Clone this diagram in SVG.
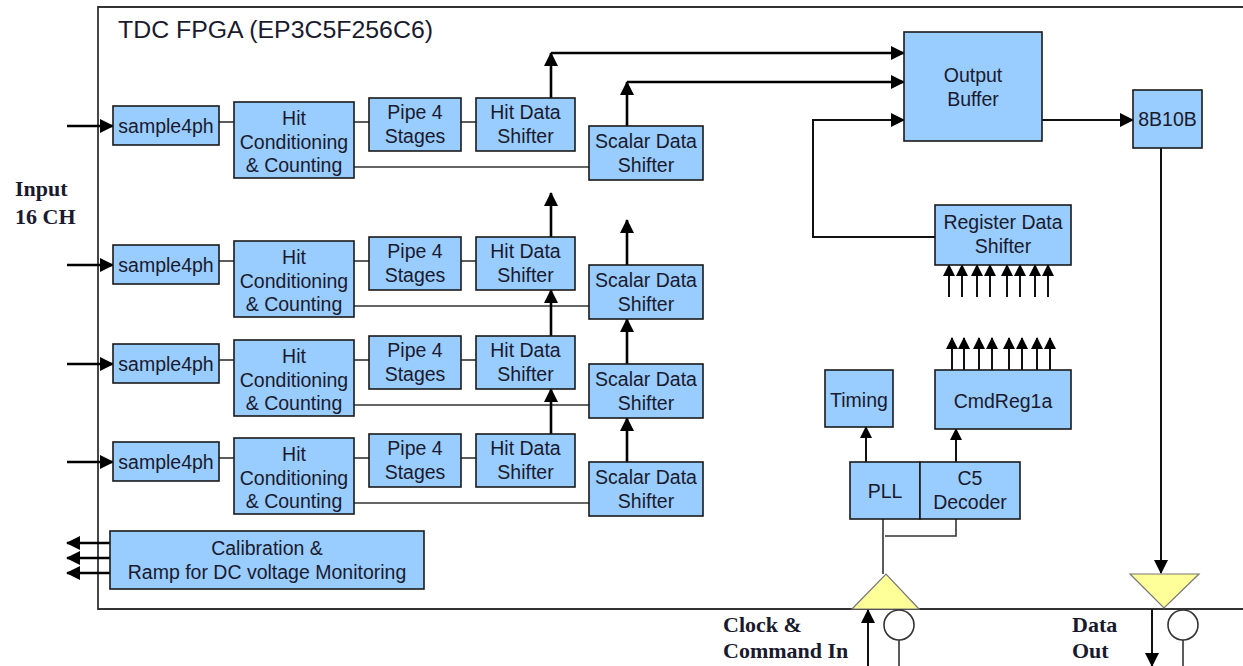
<svg xmlns="http://www.w3.org/2000/svg" width="1243" height="666" viewBox="0 0 1243 666">
  <defs>
    <marker id="ah" markerUnits="userSpaceOnUse" markerWidth="14" markerHeight="14" refX="13" refY="7" orient="auto">
      <path d="M0,0 L14,7 L0,14 z" fill="#000"/>
    </marker>
    <marker id="ahs" markerUnits="userSpaceOnUse" markerWidth="12" markerHeight="12" refX="11" refY="6" orient="auto">
      <path d="M0,0 L12,6 L0,12 z" fill="#000"/>
    </marker>
  </defs>
  <style>
    .box { fill: #99ccff; stroke: #1a1a1a; stroke-width: 1.6; }
    .lbl { font-family: "Liberation Sans", Arial, sans-serif; font-size: 19.5px; fill: #1a1a2e; text-anchor: middle; }
    .ser { font-family: "Liberation Serif", "Times New Roman", serif; font-size: 22px; font-weight: bold; fill: #1a1a2e; }
    .thin { fill: none; stroke: #333; stroke-width: 1.6; }
    .bus { fill: none; stroke: #000; stroke-width: 2.6; }
    .med { fill: none; stroke: #111; stroke-width: 2; }
    .pad { fill: #ffff99; stroke: #777; stroke-width: 1.2; }
    .io { fill: #fff; stroke: #333; stroke-width: 1.6; }
  </style>

  <rect width="1243" height="666" fill="#fff"/>

  <!-- FPGA boundary: left, top and bottom edges -->
  <g id="fpga">
    <path d="M1243,7 L98,7 L98,609 L1243,609" fill="none" stroke="#333" stroke-width="1.8"/>
    <text x="118" y="38" font-family="Liberation Sans, Arial, sans-serif" font-size="23" fill="#1a1a2e" textLength="315" lengthAdjust="spacingAndGlyphs">TDC FPGA (EP3C5F256C6)</text>
  </g>

  <!-- external labels -->
  <g id="labels">
    <text class="ser" x="15" y="196">Input</text>
    <text class="ser" x="15" y="224">16 CH</text>
    <text class="ser" x="723" y="632">Clock &amp;</text>
    <text class="ser" x="723" y="658">Command In</text>
    <text class="ser" x="1072" y="632">Data</text>
    <text class="ser" x="1072" y="658">Out</text>
  </g>

  <!-- connectors -->
  <g id="connectors">
    <!-- channel inputs -->
    <line class="bus" x1="67" y1="126" x2="113" y2="126" marker-end="url(#ah)"/>
    <line class="bus" x1="67" y1="265" x2="113" y2="265" marker-end="url(#ah)"/>
    <line class="bus" x1="67" y1="364" x2="113" y2="364" marker-end="url(#ah)"/>
    <line class="bus" x1="67" y1="462" x2="113" y2="462" marker-end="url(#ah)"/>

    <!-- row 1 internal links -->
    <line class="thin" x1="219" y1="122" x2="234" y2="122"/>
    <line class="thin" x1="354" y1="122" x2="369" y2="122"/>
    <line class="thin" x1="461" y1="122" x2="476" y2="122"/>
    <line class="thin" x1="354" y1="167" x2="589" y2="167"/>
    <!-- row 2 -->
    <line class="thin" x1="219" y1="261" x2="234" y2="261"/>
    <line class="thin" x1="354" y1="261" x2="369" y2="261"/>
    <line class="thin" x1="461" y1="261" x2="476" y2="261"/>
    <line class="thin" x1="354" y1="306" x2="589" y2="306"/>
    <!-- row 3 -->
    <line class="thin" x1="219" y1="360" x2="234" y2="360"/>
    <line class="thin" x1="354" y1="360" x2="369" y2="360"/>
    <line class="thin" x1="461" y1="360" x2="476" y2="360"/>
    <line class="thin" x1="354" y1="405" x2="589" y2="405"/>
    <!-- row 4 -->
    <line class="thin" x1="219" y1="458" x2="234" y2="458"/>
    <line class="thin" x1="354" y1="458" x2="369" y2="458"/>
    <line class="thin" x1="461" y1="458" x2="476" y2="458"/>
    <line class="thin" x1="354" y1="503" x2="589" y2="503"/>

    <!-- hit data shifter chain -->
    <line class="bus" x1="551" y1="98" x2="551" y2="53" marker-end="url(#ah)"/>
    <line class="bus" x1="551" y1="53" x2="904" y2="53" marker-end="url(#ah)"/>
    <line class="bus" x1="551" y1="237" x2="551" y2="193" marker-end="url(#ah)"/>
    <line class="bus" x1="551" y1="336" x2="551" y2="290" marker-end="url(#ah)"/>
    <line class="bus" x1="551" y1="434" x2="551" y2="389" marker-end="url(#ah)"/>

    <!-- scalar data shifter chain -->
    <line class="bus" x1="627" y1="126" x2="627" y2="82" marker-end="url(#ah)"/>
    <line class="bus" x1="627" y1="82" x2="904" y2="82" marker-end="url(#ah)"/>
    <line class="bus" x1="627" y1="265" x2="627" y2="220" marker-end="url(#ah)"/>
    <line class="bus" x1="627" y1="364" x2="627" y2="319" marker-end="url(#ah)"/>
    <line class="bus" x1="627" y1="462" x2="627" y2="418" marker-end="url(#ah)"/>

    <!-- register data into output buffer -->
    <polyline class="med" points="935,237 813,237 813,120 904,120" marker-end="url(#ah)"/>
    <!-- output buffer to encoder -->
    <line class="med" x1="1042" y1="120" x2="1133" y2="120" marker-end="url(#ah)"/>
    <!-- encoder to output pad -->
    <line class="med" x1="1161" y1="148" x2="1161" y2="573" marker-end="url(#ah)"/>

    <!-- register inputs -->
    <g class="med">
      <line x1="949" y1="297" x2="949" y2="265" marker-end="url(#ahs)"/>
      <line x1="962" y1="297" x2="962" y2="265" marker-end="url(#ahs)"/>
      <line x1="977" y1="297" x2="977" y2="265" marker-end="url(#ahs)"/>
      <line x1="990" y1="297" x2="990" y2="265" marker-end="url(#ahs)"/>
      <line x1="1007" y1="297" x2="1007" y2="265" marker-end="url(#ahs)"/>
      <line x1="1020" y1="297" x2="1020" y2="265" marker-end="url(#ahs)"/>
      <line x1="1035" y1="297" x2="1035" y2="265" marker-end="url(#ahs)"/>
      <line x1="1048" y1="297" x2="1048" y2="265" marker-end="url(#ahs)"/>
    </g>
    <!-- command register outputs -->
    <g class="med">
      <line x1="952" y1="370" x2="952" y2="338" marker-end="url(#ahs)"/>
      <line x1="964" y1="370" x2="964" y2="338" marker-end="url(#ahs)"/>
      <line x1="979" y1="370" x2="979" y2="338" marker-end="url(#ahs)"/>
      <line x1="992" y1="370" x2="992" y2="338" marker-end="url(#ahs)"/>
      <line x1="1009" y1="370" x2="1009" y2="338" marker-end="url(#ahs)"/>
      <line x1="1022" y1="370" x2="1022" y2="338" marker-end="url(#ahs)"/>
      <line x1="1037" y1="370" x2="1037" y2="338" marker-end="url(#ahs)"/>
      <line x1="1050" y1="370" x2="1050" y2="338" marker-end="url(#ahs)"/>
    </g>

    <!-- PLL / decoder -->
    <line class="med" x1="866" y1="462" x2="866" y2="427" marker-end="url(#ahs)"/>
    <line class="med" x1="956" y1="462" x2="956" y2="429" marker-end="url(#ahs)"/>
    <line class="thin" x1="883" y1="519" x2="883" y2="574"/>
    <polyline class="thin" points="956,519 956,536 885,536"/>

    <!-- calibration outputs -->
    <line class="bus" x1="110" y1="543" x2="67" y2="543" marker-end="url(#ah)"/>
    <line class="bus" x1="110" y1="558" x2="67" y2="558" marker-end="url(#ah)"/>
    <line class="bus" x1="110" y1="573" x2="67" y2="573" marker-end="url(#ah)"/>

    <!-- board-level I/O -->
    <line class="med" x1="868" y1="666" x2="868" y2="610" marker-end="url(#ah)"/>
    <line class="thin" x1="899" y1="640" x2="899" y2="666"/>
    <line class="med" x1="1152" y1="609" x2="1152" y2="666" marker-end="url(#ah)"/>
    <line class="thin" x1="1183" y1="640" x2="1183" y2="666"/>
  </g>

  <!-- channel row 1 -->
  <g id="row1">
    <g id="sample1"><rect class="box" x="113" y="106" width="106" height="39"/><text class="lbl" x="166" y="133">sample4ph</text></g>
    <g id="hitcond1"><rect class="box" x="234" y="102" width="120" height="76"/><text class="lbl" x="294" y="125">Hit</text><text class="lbl" x="294" y="148.5">Conditioning</text><text class="lbl" x="294" y="172">&amp; Counting</text></g>
    <g id="pipe1"><rect class="box" x="369" y="98" width="92" height="53"/><text class="lbl" x="415" y="119">Pipe 4</text><text class="lbl" x="415" y="143">Stages</text></g>
    <g id="hitdata1"><rect class="box" x="476" y="98" width="99" height="53"/><text class="lbl" x="525.5" y="119">Hit Data</text><text class="lbl" x="525.5" y="143">Shifter</text></g>
    <g id="scalar1"><rect class="box" x="589" y="126" width="114" height="54"/><text class="lbl" x="646" y="148">Scalar Data</text><text class="lbl" x="646" y="172">Shifter</text></g>
  </g>

  <!-- channel row 2 -->
  <g id="row2" transform="translate(0,139)">
    <g id="sample2"><rect class="box" x="113" y="106" width="106" height="39"/><text class="lbl" x="166" y="133">sample4ph</text></g>
    <g id="hitcond2"><rect class="box" x="234" y="102" width="120" height="76"/><text class="lbl" x="294" y="125">Hit</text><text class="lbl" x="294" y="148.5">Conditioning</text><text class="lbl" x="294" y="172">&amp; Counting</text></g>
    <g id="pipe2"><rect class="box" x="369" y="98" width="92" height="53"/><text class="lbl" x="415" y="119">Pipe 4</text><text class="lbl" x="415" y="143">Stages</text></g>
    <g id="hitdata2"><rect class="box" x="476" y="98" width="99" height="53"/><text class="lbl" x="525.5" y="119">Hit Data</text><text class="lbl" x="525.5" y="143">Shifter</text></g>
    <g id="scalar2"><rect class="box" x="589" y="126" width="114" height="54"/><text class="lbl" x="646" y="148">Scalar Data</text><text class="lbl" x="646" y="172">Shifter</text></g>
  </g>

  <!-- channel row 3 -->
  <g id="row3" transform="translate(0,238)">
    <g id="sample3"><rect class="box" x="113" y="106" width="106" height="39"/><text class="lbl" x="166" y="133">sample4ph</text></g>
    <g id="hitcond3"><rect class="box" x="234" y="102" width="120" height="76"/><text class="lbl" x="294" y="125">Hit</text><text class="lbl" x="294" y="148.5">Conditioning</text><text class="lbl" x="294" y="172">&amp; Counting</text></g>
    <g id="pipe3"><rect class="box" x="369" y="98" width="92" height="53"/><text class="lbl" x="415" y="119">Pipe 4</text><text class="lbl" x="415" y="143">Stages</text></g>
    <g id="hitdata3"><rect class="box" x="476" y="98" width="99" height="53"/><text class="lbl" x="525.5" y="119">Hit Data</text><text class="lbl" x="525.5" y="143">Shifter</text></g>
    <g id="scalar3"><rect class="box" x="589" y="126" width="114" height="54"/><text class="lbl" x="646" y="148">Scalar Data</text><text class="lbl" x="646" y="172">Shifter</text></g>
  </g>

  <!-- channel row 4 -->
  <g id="row4" transform="translate(0,336)">
    <g id="sample4"><rect class="box" x="113" y="106" width="106" height="39"/><text class="lbl" x="166" y="133">sample4ph</text></g>
    <g id="hitcond4"><rect class="box" x="234" y="102" width="120" height="76"/><text class="lbl" x="294" y="125">Hit</text><text class="lbl" x="294" y="148.5">Conditioning</text><text class="lbl" x="294" y="172">&amp; Counting</text></g>
    <g id="pipe4"><rect class="box" x="369" y="98" width="92" height="53"/><text class="lbl" x="415" y="119">Pipe 4</text><text class="lbl" x="415" y="143">Stages</text></g>
    <g id="hitdata4"><rect class="box" x="476" y="98" width="99" height="53"/><text class="lbl" x="525.5" y="119">Hit Data</text><text class="lbl" x="525.5" y="143">Shifter</text></g>
    <g id="scalar4"><rect class="box" x="589" y="126" width="114" height="54"/><text class="lbl" x="646" y="148">Scalar Data</text><text class="lbl" x="646" y="172">Shifter</text></g>
  </g>

  <g id="calibration">
    <rect class="box" x="110" y="531" width="314" height="58"/>
    <text class="lbl" x="267" y="555">Calibration &amp;</text>
    <text class="lbl" x="267" y="579">Ramp for DC voltage Monitoring</text>
  </g>

  <g id="outbuf">
    <rect class="box" x="904" y="32" width="138" height="109"/>
    <text class="lbl" x="973" y="82">Output</text>
    <text class="lbl" x="973" y="106">Buffer</text>
  </g>

  <g id="enc8b10b">
    <rect class="box" x="1133" y="90" width="69" height="58"/>
    <text class="lbl" x="1167.5" y="126">8B10B</text>
  </g>

  <g id="regshift">
    <rect class="box" x="935" y="205" width="136" height="60"/>
    <text class="lbl" x="1003" y="229">Register Data</text>
    <text class="lbl" x="1003" y="253">Shifter</text>
  </g>

  <g id="timing">
    <rect class="box" x="825" y="370" width="68" height="57"/>
    <text class="lbl" x="859" y="407">Timing</text>
  </g>

  <g id="cmdreg">
    <rect class="box" x="935" y="370" width="136" height="59"/>
    <text class="lbl" x="1003" y="408">CmdReg1a</text>
  </g>

  <g id="pll">
    <rect class="box" x="850" y="462" width="70" height="57"/>
    <text class="lbl" x="885" y="498">PLL</text>
  </g>

  <g id="decoder">
    <rect class="box" x="920" y="462" width="100" height="57"/>
    <text class="lbl" x="970" y="485">C5</text>
    <text class="lbl" x="970" y="509">Decoder</text>
  </g>

  <g id="pad_in">
    <polygon class="pad" points="852,609 919,609 886,574"/>
    <circle class="io" cx="899" cy="625" r="15"/>
  </g>

  <g id="pad_out">
    <polygon class="pad" points="1130,574 1199,574 1164,608"/>
    <circle class="io" cx="1183" cy="625" r="15"/>
  </g>
</svg>
